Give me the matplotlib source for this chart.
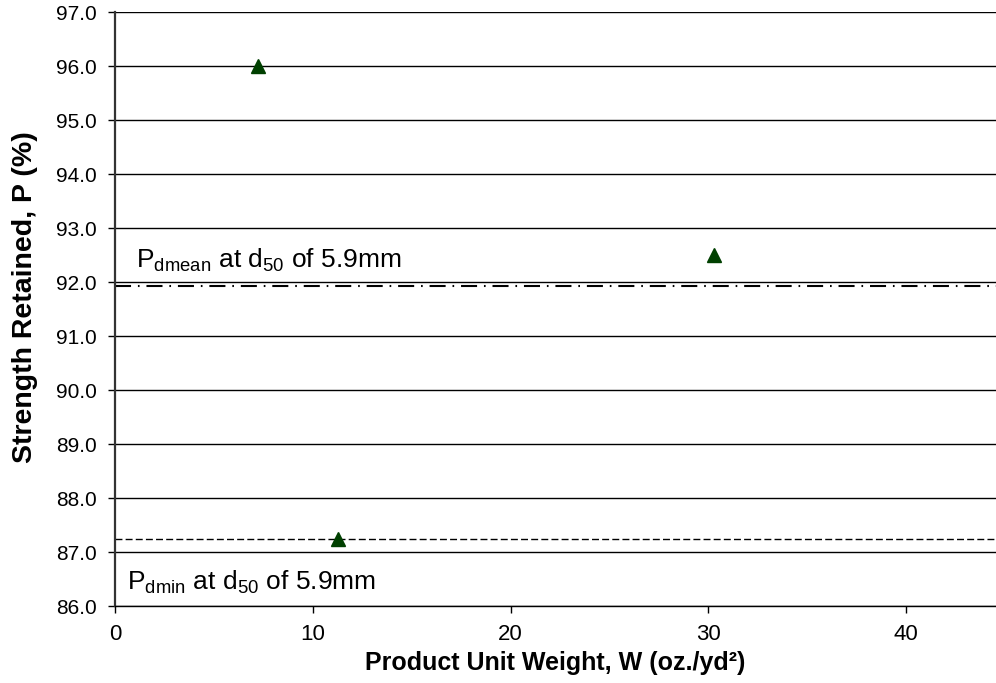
import matplotlib.pyplot as plt

plt.rcParams['font.family'] = ['Liberation Sans', 'DejaVu Sans']

weights = [7.25, 30.3, 11.3]
retained = [96.0, 92.5, 87.25]
p_dmean = 91.93
p_dmin = 87.25
yticks = [86 + i for i in range(12)]
xticks = [0, 10, 20, 30, 40]

fig = plt.figure(figsize=(9.96, 6.83), dpi=100)
ax = fig.add_axes([115 / 996, 1 - 606 / 683, (996 - 115) / 996, (606 - 12) / 683])

ax.set_xlim(0, 44.55)
ax.set_ylim(86, 97)
ax.set_yticks(yticks)
ax.set_yticklabels([f'{v:.1f}' for v in yticks])
ax.set_xticks(xticks)
ax.yaxis.grid(True, color='black', linewidth=1)
ax.set_axisbelow(True)

# reference lines for P at d50
ax.axhline(p_dmean, color='black', linestyle=(0, (7.7, 3.3, 0.8, 3.3)), linewidth=1.5)
ax.axhline(p_dmin, color='black', linestyle=(0, (5, 2.3)), linewidth=1)
ax.plot(weights, retained, '^', color='#004000', markersize=10, linestyle='none')

ax.text(1.05, 92.26, r'P$_{\mathregular{dmean}}$ at d$_{\mathregular{50}}$ of 5.9mm',
        fontsize=19, va='baseline')
ax.text(0.62, 86.31, r'P$_{\mathregular{dmin}}$ at d$_{\mathregular{50}}$ of 5.9mm',
        fontsize=19, va='baseline')

for s in ['top', 'right']:
    ax.spines[s].set_visible(False)
ax.spines['left'].set_linewidth(1.6)
ax.spines['left'].set_color('#333333')
ax.spines['bottom'].set_linewidth(1)
ax.tick_params(direction='out', length=5, width=1)
ax.tick_params(axis='y', labelsize=15, pad=8)
ax.tick_params(axis='x', labelsize=16, pad=8)

ax.set_xlabel('Product Unit Weight, W (oz./yd²)', fontsize=18, fontweight='bold', labelpad=4)
ax.set_ylabel('Strength Retained, P (%)', fontsize=20.5, fontweight='bold', labelpad=12)
ax.yaxis.set_label_coords(-0.087, 0.52)

plt.savefig('out.png')
